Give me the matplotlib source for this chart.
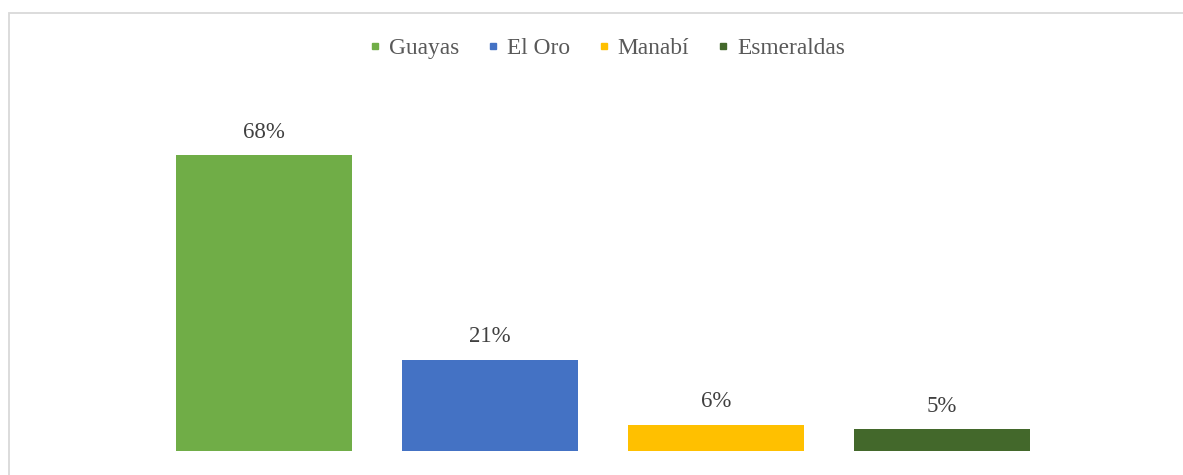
import matplotlib
matplotlib.use('Agg')
import matplotlib.pyplot as plt
from matplotlib.patches import Rectangle
from matplotlib.lines import Line2D

# Data
provinces = ['Guayas', 'El Oro', 'Manabí', 'Esmeraldas']
shares = [68, 21, 6, 5]
colors = ['#70ad47', '#4472c4', '#ffc000', '#43682b']

plt.rcParams['font.family'] = ['Liberation Serif', 'DejaVu Serif']

W, H = 1183, 475
fig = plt.figure(figsize=(W / 100, H / 100), dpi=100)

# light frame around the chart area (runs past right/bottom edge)
fig.patches.append(Rectangle((8.5 / W, -0.1), 1.2, 1 - 12.5 / H + 0.1,
                             transform=fig.transFigure, fill=False,
                             edgecolor='#d9d9d9', linewidth=1.3))

ax = fig.add_axes([151 / W, 1 - 451 / H, 904 / W, (451 - 103) / H])
x = range(len(provinces))
bars = ax.bar(x, shares, width=0.78, color=colors, label=provinces)
ax.set_xlim(-0.5, len(provinces) - 0.5)
ax.set_ylim(0, 80)

for b, v in zip(bars, shares):
    ax.annotate(f'{v}%', (b.get_x() + b.get_width() / 2, v),
                xytext=(0, 9), textcoords='offset points',
                ha='center', va='bottom', fontsize=16.5, color='#404040')

ax.axis('off')

handles = [Line2D([], [], marker='s', linestyle='none', markersize=4.6,
                  markerfacecolor=c, markeredgecolor=c) for c in colors]
fig.legend(handles, provinces, loc='center', bbox_to_anchor=(608 / W, 1 - 48 / H),
           ncol=4, frameon=False, fontsize=16.8, labelcolor='#595959',
           handlelength=0.3, handletextpad=0.45, columnspacing=1.3)

fig.savefig('out.png', dpi=100)
